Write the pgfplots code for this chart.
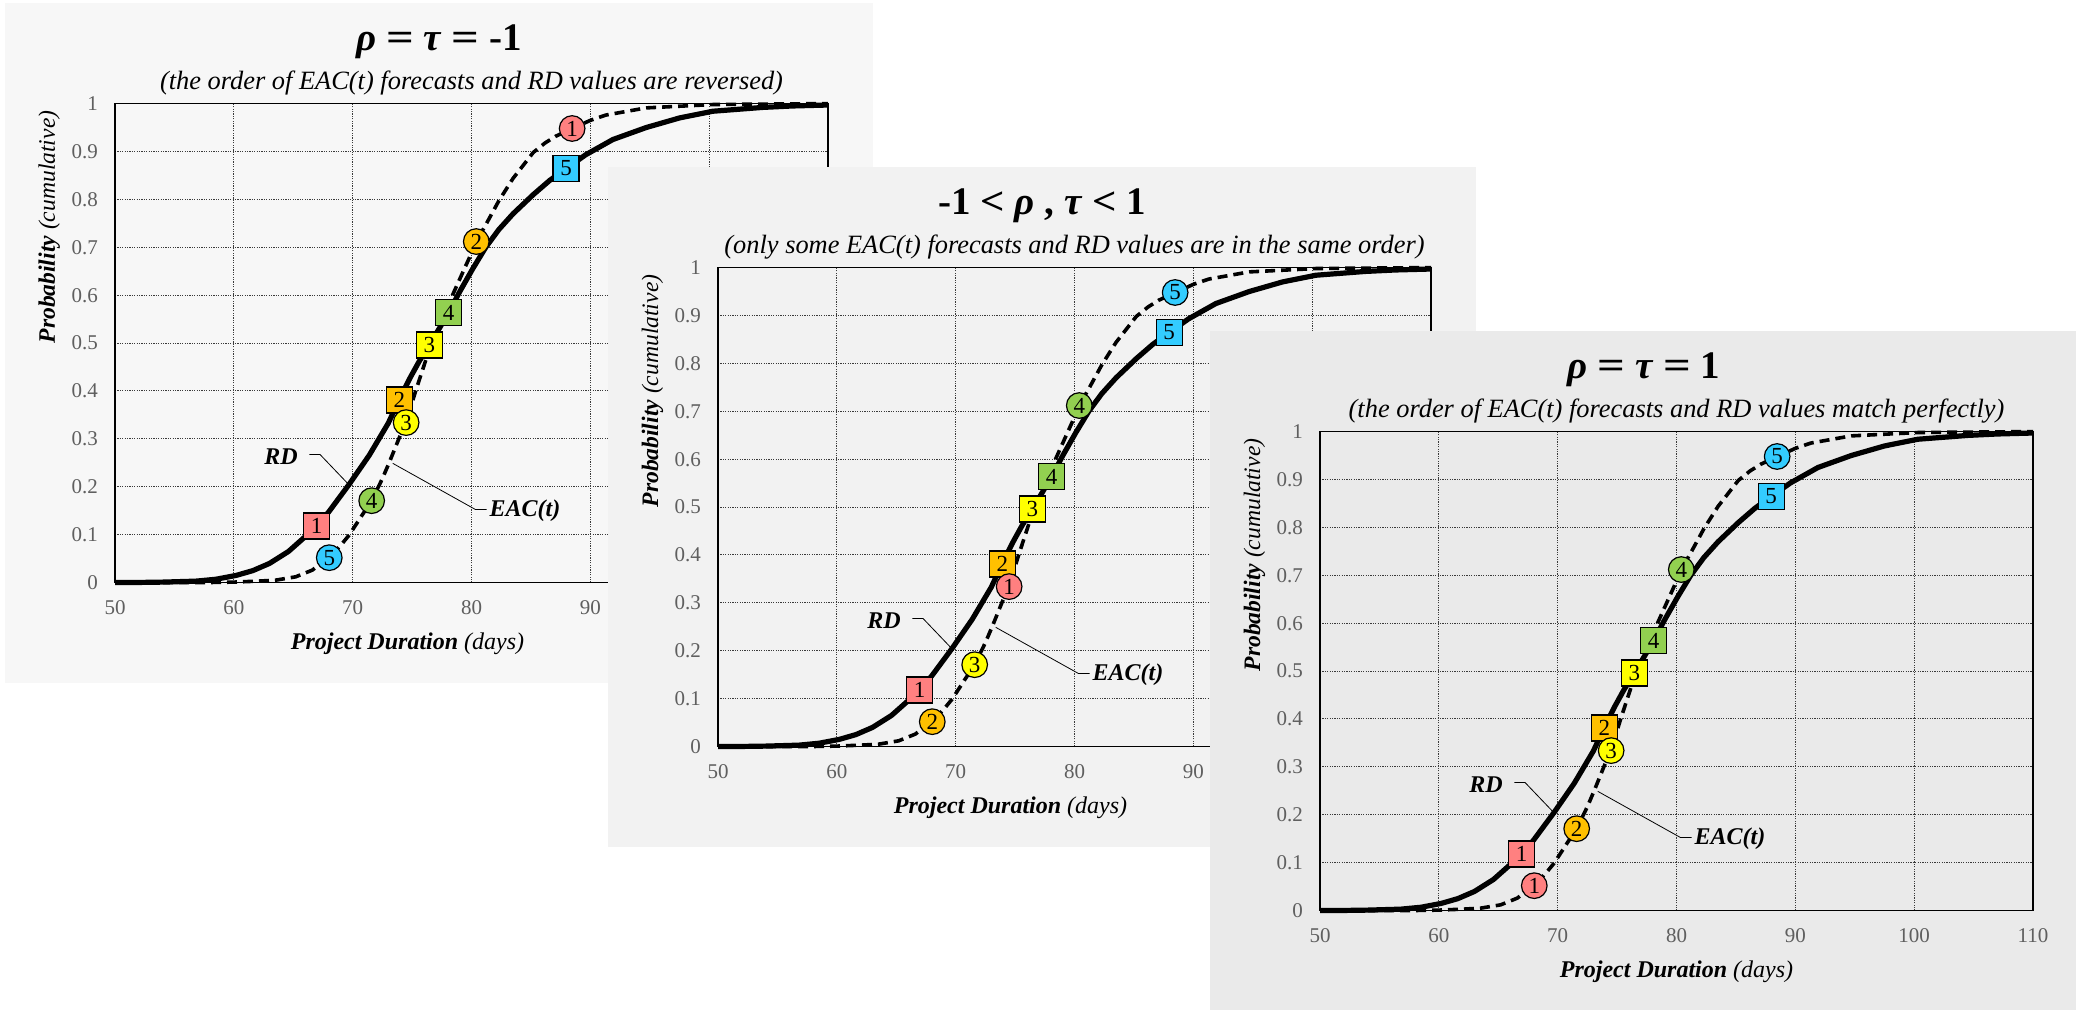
\documentclass[border=0pt]{standalone}
\usepackage{fontspec}
\setmainfont{Liberation Serif}
\usepackage{pgfplots}
\pgfplotsset{compat=1.18}
\usepackage{pgfplotstable}
\usepackage{graphicx}

\definecolor{bgA}{HTML}{F7F7F7}
\definecolor{bgB}{HTML}{F2F2F2}
\definecolor{bgC}{HTML}{EAEAEA}
\definecolor{mk1}{HTML}{FF8080}
\definecolor{mk2}{HTML}{FFC000}
\definecolor{mk3}{HTML}{FFFF00}
\definecolor{mk4}{HTML}{92D050}
\definecolor{mk5}{HTML}{33CCFF}
\definecolor{tickgray}{HTML}{5F5F5F}
\definecolor{gridgray}{HTML}{3A3A3A}

\pgfplotstableread{
x y
50 0
52 0.0003
54 0.001
56.8 0.003
58.5 0.007
60.2 0.015
61.6 0.025
63.0 0.040
64.6 0.065
66.1 0.098
67.0 0.118
68.0 0.148
69.7 0.205
71.4 0.266
73.0 0.333
73.9 0.381
74.8 0.426
75.6 0.462
76.45 0.496
77.3 0.531
78.1 0.565
79.0 0.607
80.1 0.655
81.2 0.700
82.3 0.737
83.5 0.770
85.2 0.810
86.6 0.840
88.0 0.865
89.6 0.893
91.9 0.925
94.7 0.950
97.5 0.970
100.3 0.984
104.5 0.992
107 0.995
110 0.997
}\rdtab

\pgfplotstableread{
x y
50 0
55 0
57.5 0.0
60 0.001
62 0.003
63.5 0.005
65.2 0.012
66.6 0.026
68.0 0.052
69.0 0.078
69.7 0.099
70.8 0.141
71.6 0.171
72.5 0.217
73.1 0.252
73.9 0.301
74.5 0.335
75.3 0.40
76.2 0.468
77.3 0.535
78.4 0.600
79.8 0.677
80.4 0.712
81.2 0.747
82.3 0.797
83.5 0.844
85.2 0.898
86.2 0.918
87.1 0.932
88.5 0.948
90.0 0.965
91.3 0.976
94.7 0.991
100.3 0.998
105 0.999
110 1.0
}\eactab

\pgfplotstableread{
x y lab
66.97 0.118 1
73.93 0.381 2
76.45 0.496 3
78.08 0.564 4
87.96 0.865 5
}\sqtab

\pgfplotstableread{
x y lab
88.47 0.948 1
80.4 0.712 2
74.5 0.334 3
71.6 0.171 4
68.03 0.052 5
}\circA

\pgfplotstableread{
x y lab
74.5 0.334 1
68.03 0.052 2
71.6 0.171 3
80.4 0.712 4
88.47 0.948 5
}\circB

\pgfplotstableread{
x y lab
68.03 0.052 1
71.6 0.171 2
74.5 0.334 3
80.4 0.712 4
88.47 0.948 5
}\circC

\pgfplotsset{
  panel/.style={
    scale only axis, width=356.5pt, height=239.5pt, anchor=north west,
    xmin=50, xmax=110, ymin=0, ymax=1,
    xtick={50,60,70,80,90,100,110},
    ytick={0,0.1,0.2,0.3,0.4,0.5,0.6,0.7,0.8,0.9,1},
    major tick length=0pt,
    grid=major,
    grid style={gridgray, line width=0.5pt, dash pattern=on 0.6pt off 0.6pt},
    axis line style={black, line width=0.9pt},
    tick label style={font=\fontsize{10.5}{12}\selectfont, text=tickgray},
    /pgf/number format/assume math mode=true,
    xticklabel style={yshift=-5.5pt},
    yticklabel style={xshift=-5pt},
    clip=false,
  },
  rdline/.style={black, line width=2.6pt, line join=round},
  eacline/.style={black, line width=1.8pt, dash pattern=on 5pt off 3pt},
  mknum/.style={draw=none, mark=none, point meta=explicit symbolic,
    nodes near coords={\pgfplotspointmeta},
    nodes near coords align={center},
    every node near coord/.style={anchor=center, inner sep=0pt, text=black, font=\fontsize{11.5}{12}\selectfont},
  },
  sqmarks/.style={scatter, only marks, scatter src=explicit symbolic, mark size=6.5pt,
    scatter/classes={
      1={mark=square*, draw=black, fill=mk1, line width=0.6pt},
      2={mark=square*, draw=black, fill=mk2, line width=0.6pt},
      3={mark=square*, draw=black, fill=mk3, line width=0.6pt},
      4={mark=square*, draw=black, fill=mk4, line width=0.6pt},
      5={mark=square*, draw=black, fill=mk5, line width=0.6pt}}},
  cimarks/.style={scatter, only marks, scatter src=explicit symbolic, mark size=6.4pt,
    scatter/classes={
      1={mark=*, draw=black, fill=mk1, line width=0.6pt},
      2={mark=*, draw=black, fill=mk2, line width=0.6pt},
      3={mark=*, draw=black, fill=mk3, line width=0.6pt},
      4={mark=*, draw=black, fill=mk4, line width=0.6pt},
      5={mark=*, draw=black, fill=mk5, line width=0.6pt}}},
}

\newcommand{\annot}{%
  \node[font=\fontsize{12}{12}\selectfont\bfseries\itshape] at (axis cs:63.97,0.263) {RD};
  \draw[line width=0.4pt] (axis cs:66.35,0.2675) -- (axis cs:67.25,0.2675) -- (axis cs:69.58,0.207);
  \draw[line width=0.4pt] (axis cs:73.37,0.249) -- (axis cs:80.33,0.1526) -- (axis cs:81.28,0.1526);
  \node[font=\fontsize{12}{12}\selectfont\bfseries\itshape] at (axis cs:84.5,0.149) {EAC(t)};
}
\newcommand{\markers}[1]{%
  \addplot[sqmarks] table[x=x,y=y,meta=lab] {\sqtab};
  \addplot[mknum] table[x=x,y=y,meta=lab] {\sqtab};
  \addplot[cimarks] table[x=x,y=y,meta=lab] {#1};
  \addplot[mknum] table[x=x,y=y,meta=lab] {#1};
}
\newcommand{\beq}{\scalebox{1.25}[1.0]{=}}
\newcommand{\blt}{\scalebox{1.1}[1.0]{<}}
\newcommand{\panellabels}[4]{%
  \node[anchor=base, font=\fontsize{19.5}{20}\selectfont\bfseries] at ([xshift=-16.25pt,yshift=26.6pt]#1.north) {#2};
  \node[anchor=base, font=\fontsize{13.2}{14}\selectfont\itshape] at ([yshift=7.1pt]#1.north) {#3};
  \node[anchor=base, font=\fontsize{12}{13}\selectfont] at ([xshift=#4,yshift=-33.4pt]#1.south) {\textbf{\textit{Project Duration}} \textit{(days)}};
  \node[anchor=base east, rotate=90, font=\fontsize{11.8}{13}\selectfont] at ([xshift=-30pt]#1.north west) {\textbf{\textit{Probability}} \textit{(cumulative)}};
}

\begin{document}
\begin{tikzpicture}[x=1pt,y=1pt]
\path[use as bounding box, fill=white] (0pt,0pt) rectangle (1038pt,505pt);

% ---------- Panel 1 ----------
\fill[bgA] (2.5pt,163.5pt) rectangle (436.5pt,503.5pt);
\begin{axis}[panel, name=ax1, at={(57.5pt,453.2pt)}]
  \addplot[eacline] table[x=x,y=y] {\eactab};
  \addplot[rdline] table[x=x,y=y] {\rdtab};
  \annot
  \markers{\circA}
\end{axis}
\panellabels{ax1}{\textit{ρ} \beq{} \textit{τ} \beq{} -1}{(the order of EAC(t) forecasts and RD values are reversed)}{-32pt}

% ---------- Panel 2 ----------
\fill[bgB] (304pt,81.5pt) rectangle (738pt,421.5pt);
\begin{axis}[panel, name=ax2, at={(359pt,371.2pt)}]
  \addplot[eacline] table[x=x,y=y] {\eactab};
  \addplot[rdline] table[x=x,y=y] {\rdtab};
  \annot
  \markers{\circB}
\end{axis}
\panellabels{ax2}{-1 \blt{} \textit{ρ} , \textit{τ} \blt{} 1}{(only some EAC(t) forecasts and RD values are in the same order)}{-32pt}

% ---------- Panel 3 ----------
\fill[bgC] (605pt,-0.5pt) rectangle (1039pt,339.5pt);
\begin{axis}[panel, name=ax3, at={(660pt,289.2pt)}]
  \addplot[eacline] table[x=x,y=y] {\eactab};
  \addplot[rdline] table[x=x,y=y] {\rdtab};
  \annot
  \markers{\circC}
\end{axis}
\panellabels{ax3}{\textit{ρ} \beq{} \textit{τ} \beq{} 1}{(the order of EAC(t) forecasts and RD values match perfectly)}{0pt}
\end{tikzpicture}
\end{document}
